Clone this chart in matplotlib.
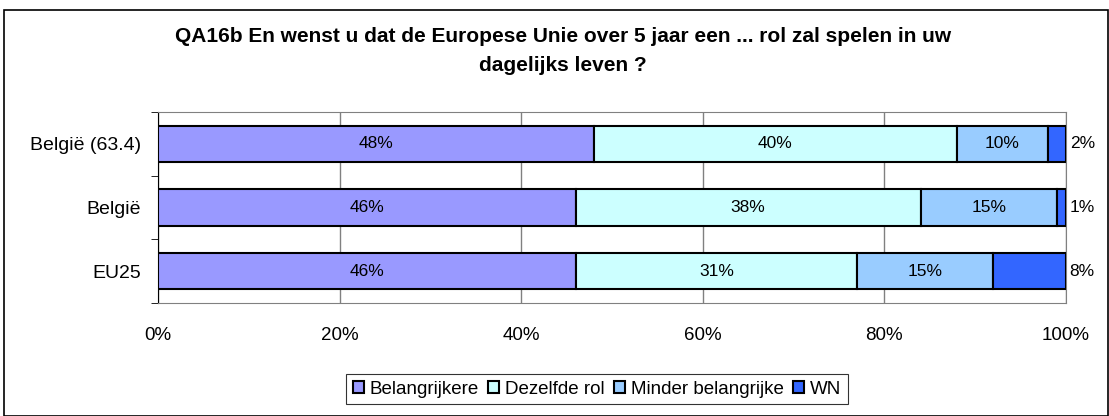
import matplotlib
matplotlib.use("Agg")
import matplotlib.pyplot as plt
from matplotlib.patches import Rectangle

plt.rcParams['font.family'] = ['Liberation Sans', 'DejaVu Sans']

categories = ["België (63.4)", "België", "EU25"]
series_names = ["Belangrijkere", "Dezelfde rol", "Minder belangrijke", "WN"]
belangrijkere = [48, 46, 46]
dezelfde_rol = [40, 38, 31]
minder = [10, 15, 15]
wn = [2, 1, 8]
colors = ["#9999FF", "#CCFFFF", "#99CCFF", "#3366FF"]
xticks = [0, 20, 40, 60, 80, 100]
xticklabels = ["0%", "20%", "40%", "60%", "80%", "100%"]
title = "QA16b En wenst u dat de Europese Unie over 5 jaar een ... rol zal spelen in uw\ndagelijks leven ?"

W, H = 1109, 416
fig = plt.figure(figsize=(W / 100, H / 100), dpi=100)
# outer frame
fig.patches.append(Rectangle((4 / W, 0), (W - 5) / W, (H - 10) / H, transform=fig.transFigure,
                             fill=False, edgecolor="black", linewidth=1.2))

left, right, top, bottom = 158, 1066, 112, 303
ax = fig.add_axes([left / W, 1 - bottom / H, (right - left) / W, (bottom - top) / H])

series = [belangrijkere, dezelfde_rol, minder, wn]
ypos = [2, 1, 0]
bar_h = 0.57
lefts = [0, 0, 0]
for si, (vals, col, name) in enumerate(zip(series, colors, series_names)):
    ax.barh(ypos, vals, left=lefts, height=bar_h, color=col, edgecolor="black",
            linewidth=1.5, label=name, zorder=3)
    for y, v, l in zip(ypos, vals, lefts):
        if si == 3:
            ax.text(100.4, y, f"{v}%", va="center", ha="left", fontsize=12.5, clip_on=False)
        else:
            ax.text(l + v / 2, y, f"{v}%", va="center", ha="center", fontsize=12.5, zorder=4)
    lefts = [a + b for a, b in zip(lefts, vals)]

ax.set_xlim(0, 100)
ax.set_ylim(-0.5, 2.5)
ax.set_xticks(xticks)
ax.set_xticklabels(xticklabels, fontsize=13.5)
ax.set_yticks(ypos)
ax.set_yticklabels(categories, fontsize=14)
ax.set_yticks([-0.5, 0.5, 1.5, 2.5], minor=True)
ax.tick_params(axis="y", which="major", length=0, pad=12)
ax.tick_params(axis="y", which="minor", length=5, color="black")
ax.tick_params(axis="x", length=0, pad=17)
ax.grid(axis="x", color="#808080", linewidth=1, zorder=0)
for s in ["top", "right", "bottom"]:
    ax.spines[s].set_color("#808080")
ax.spines["left"].set_color("black")

fig.text(563 / W, 1 - 27 / H, title, ha="center", va="top",
         fontsize=15, fontweight="bold", linespacing=1.65)

leg = fig.legend(loc="center", bbox_to_anchor=(597 / W, 1 - 389 / H), ncol=4, fontsize=13.5,
                 frameon=True, fancybox=False, edgecolor="black", handlelength=0.6,
                 handleheight=0.6, handletextpad=0.3, columnspacing=0.5, borderpad=0.35)
leg.get_frame().set_linewidth(0.8)

fig.savefig("out.png", dpi=100)
